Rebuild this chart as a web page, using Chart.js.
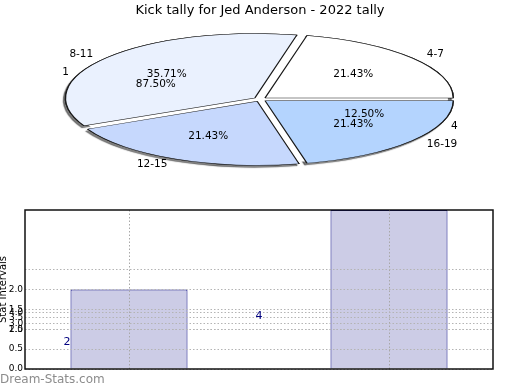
<!DOCTYPE html>
<html>
<head>
<meta charset="utf-8">
<script src="https://cdn.jsdelivr.net/npm/chart.js@4.4.1/dist/chart.umd.min.js"></script>
<style>
  body { margin: 0; background: #fff; }
  #wrap { position: relative; width: 520px; height: 390px; overflow: hidden; font-family: 'DejaVu Sans', sans-serif; }
  canvas { position: absolute; left: 0; }
  #pie, #pie2 { top: 0; }
  #bars { top: 195px; }
  #mark { position: absolute; left: 0; top: 372px; font-size: 12px; color: #8c8c8c; }
</style>
</head>
<body>
<div id="wrap">
  <canvas id="pie" width="520" height="200"></canvas>
  <canvas id="pie2" width="520" height="200"></canvas>
  <canvas id="bars" width="520" height="195"></canvas>
  <div id="mark">Dream-Stats.com</div>
</div>
<script>
// pie: visible slices
const pieLabels = ['4-7', '8-11', '12-15', '16-19'];
const pieValues = [3, 5, 3, 3];
const pieColors = ['#ffffff', '#eaf1fe', '#c6d8fd', '#b4d4fe'];
// pie drawn on top, only its labels show
const pie2Labels = ['1', '4'];
const pie2Values = [7, 1];

// bars
const barX = [0, 1];
const barValues = [2, 4];
const barValueLabels = ['2', '4'];
const yTicks = [0, 0.5, 1, 1.5, 2, 2.5];
const yTickLabels = ['0.0', '0.5', '1.0', '1.5', '2.0', ''];
const y2Ticks = [2.5, 3, 3.5, 4];
const y2TickLabels = ['2.5', '3.0', '3.5', '4.0'];

Chart.defaults.font.family = "'DejaVu Sans', sans-serif";
Chart.defaults.color = '#000';

const PIE_R = 188;
const SQUASH = 64 / 188;

function squash(ctx, arc) {
  ctx.translate(0, arc.y);
  ctx.scale(1, SQUASH);
  ctx.translate(0, -arc.y);
}

const ellipsePie = {
  id: 'ellipsePie',
  beforeDatasetsDraw(chart, args, opts) {
    const ctx = chart.ctx;
    const arcs = chart.getDatasetMeta(0).data;
    const c = arcs[0];
    if (opts.shadow) {
      ctx.save();
      squash(ctx, c);
      ctx.beginPath();
      ctx.rect(0, -chart.height * 4, chart.width, chart.height * 10);
      ctx.arc(c.x, c.y, c.outerRadius, 0, Math.PI * 2);
      ctx.clip('evenodd');
      ctx.shadowColor = 'rgba(0,0,0,0.5)';
      ctx.shadowOffsetX = -2;
      ctx.shadowOffsetY = 2;
      ctx.shadowBlur = 1;
      arcs.forEach(a => a.draw(ctx));
      ctx.restore();
    }
    ctx.save();
    squash(ctx, c);
  },
  afterDatasetsDraw(chart) {
    const ctx = chart.ctx;
    ctx.restore();
    const arcs = chart.getDatasetMeta(0).data;
    const vals = chart.data.datasets[0].data;
    const total = vals.reduce((s, v) => s + v, 0);
    ctx.save();
    ctx.font = "10.5px 'DejaVu Sans'";
    ctx.fillStyle = '#000';
    ctx.textBaseline = 'middle';
    arcs.forEach((a, i) => {
      const mid = (a.startAngle + a.endAngle) / 2;
      const off = (a.options.offset || 0) / 4;
      const r = a.outerRadius;
      const at = d => [a.x + Math.cos(mid) * d, a.y + Math.sin(mid) * d * SQUASH];
      const [lx, ly] = at(r * 1.1 + off);
      ctx.textAlign = Math.cos(mid) >= 0 ? 'left' : 'right';
      ctx.fillText(chart.data.labels[i], lx, ly);
      const [px, py] = at(r * 0.6 + off);
      ctx.textAlign = 'center';
      ctx.fillText((vals[i] / total * 100).toFixed(2) + '%', px, py);
    });
    ctx.restore();
  }
};

new Chart(document.getElementById('pie'), {
  type: 'pie',
  data: {
    labels: pieLabels.slice().reverse(),
    datasets: [{
      data: pieValues.slice().reverse(),
      backgroundColor: pieColors.slice().reverse(),
      borderColor: '#1a1a1a',
      borderWidth: 1.4,
      offset: 26
    }]
  },
  options: {
    responsive: false,
    animation: false,
    events: [],
    rotation: 90,
    radius: PIE_R,
    layout: { padding: { top: 0, bottom: 20 } },
    plugins: {
      legend: { display: false },
      tooltip: { enabled: false },
      title: {
        display: true,
        text: 'Kick tally for Jed Anderson - 2022 tally',
        color: '#000',
        font: { size: 13, weight: 'normal' },
        padding: { top: 3, bottom: 0 }
      },
      ellipsePie: { shadow: true }
    }
  },
  plugins: [ellipsePie]
});

new Chart(document.getElementById('pie2'), {
  type: 'pie',
  data: {
    labels: pie2Labels.slice().reverse(),
    datasets: [{
      data: pie2Values.slice().reverse(),
      backgroundColor: 'rgba(0,0,0,0)',
      borderWidth: 0
    }]
  },
  options: {
    responsive: false,
    animation: false,
    events: [],
    rotation: 90,
    radius: PIE_R,
    layout: { padding: { top: 18.6, bottom: 20 } },
    plugins: {
      legend: { display: false },
      tooltip: { enabled: false },
      ellipsePie: { shadow: false }
    }
  },
  plugins: [ellipsePie]
});

const frame = {
  id: 'frame',
  afterDraw(chart) {
    const { ctx, chartArea: ca } = chart;
    const y = chart.scales.y;
    const bars = chart.getDatasetMeta(0).data;
    ctx.save();
    ctx.font = "11px 'DejaVu Sans'";
    ctx.fillStyle = '#000080';
    ctx.textBaseline = 'middle';
    bars.forEach((b, i) => {
      const ly = y.getPixelForValue(barValues[i] / 3);
      if (i === 0) {
        ctx.textAlign = 'right';
        ctx.fillText(barValueLabels[i], b.x - b.width / 2, ly);
      } else {
        ctx.textAlign = 'center';
        ctx.fillText(barValueLabels[i], (bars[i - 1].x + b.x) / 2, ly);
      }
    });
    ctx.strokeStyle = '#111';
    ctx.lineWidth = 1.5;
    ctx.strokeRect(ca.left, ca.top, ca.right - ca.left, ca.bottom - ca.top);
    ctx.restore();
  }
};

const gridDash = [1.5, 2];

new Chart(document.getElementById('bars'), {
  type: 'bar',
  data: {
    datasets: [{
      data: barX.map((x, i) => ({ x: x, y: barValues[i] })),
      backgroundColor: '#ccccE6',
      borderColor: '#000080',
      borderWidth: 1,
      categoryPercentage: 0.5,
      barPercentage: 0.9
    }]
  },
  options: {
    responsive: false,
    animation: false,
    events: [],
    layout: { padding: { top: 15, right: 27, bottom: 21, left: 0 } },
    plugins: { legend: { display: false }, tooltip: { enabled: false } },
    scales: {
      x: {
        type: 'linear',
        offset: false,
        min: -0.4,
        max: 1.4,
        afterBuildTicks: s => { s.ticks = barX.map(v => ({ value: v })); },
        afterFit: s => { s.height = 0; },
        ticks: { display: false },
        grid: { offset: false, color: '#a8a8a8', drawTicks: false, z: 1 },
        border: { display: false, dash: gridDash }
      },
      y: {
        position: 'left',
        weight: 1,
        min: 0,
        max: 4,
        afterBuildTicks: s => { s.ticks = yTicks.map(v => ({ value: v })); },
        afterFit: s => { s.width = 25; },
        ticks: { padding: 2, font: { size: 9 }, color: '#000', callback: (v, i) => yTickLabels[i] },
        grid: { color: '#b4b4b4', drawTicks: false, z: 1 },
        border: { display: false, dash: gridDash },
        title: { display: true, text: 'Stat Intervals', color: '#000', font: { size: 10, lineHeight: 0.7 }, padding: 0 }
      },
      // second, squeezed scale whose labels pile up on the first one
      y2: {
        position: 'left',
        weight: 0,
        min: -1,
        max: 13,
        afterBuildTicks: s => { s.ticks = y2Ticks.map(v => ({ value: v })); },
        afterFit: s => { s.width = 0; },
        ticks: { mirror: true, crossAlign: 'near', padding: -16, font: { size: 9 }, color: '#000', callback: (v, i) => y2TickLabels[i] },
        grid: { color: '#b4b4b4', drawTicks: false, z: 1 },
        border: { display: false, dash: gridDash }
      }
    }
  },
  plugins: [frame]
});
</script>
</body>
</html>
